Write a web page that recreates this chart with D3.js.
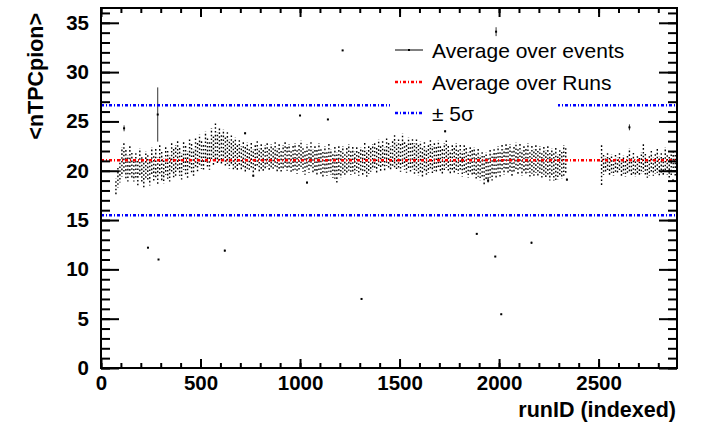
<!DOCTYPE html>
<html>
<head>
<meta charset="utf-8">
<script src="https://cdnjs.cloudflare.com/ajax/libs/d3/7.8.5/d3.min.js"></script>
<style>
  body { margin: 0; background: white; }
  svg { display: block; font-family: "Liberation Sans", Arial, Helvetica, sans-serif; }
  .axis text { font-size: 20.5px; font-weight: bold; fill: black; }
  .axis line { stroke: black; stroke-width: 2; }
  .axis path { display: none; }
</style>
</head>
<body>
<div id="chart"></div>
<script>
var width = 704
var height = 430
var margin = {top: 8, right: 27, bottom: 62, left: 101}

// Gather data
// runs are grouped in columns of 10 (column i covers runs 10*i .. 10*i+9)
var colSize = 10

var colHigh = [
  null, null, null, null, null, null, null,
  19.2, 20.4, 21.2, 22.4, 22.9, 22.1, 21.6, 22.6, 21.8, 21.2,
  21.9, 21.0, 22.3, 21.5, 20.8, 22.0, 21.7, 20.9, 22.4, 21.6,
  22.2, 21.4, 22.7, 21.9, 21.3, 22.5, 22.0, 21.6, 22.9, 22.2,
  22.6, 23.1, 22.3, 21.8, 23.0, 22.5, 22.0, 23.3, 22.7, 22.2,
  23.4, 22.8, 23.7, 23.1, 22.6, 24.0, 23.4, 22.9, 24.3, 23.6,
  24.8, 23.9, 24.4, 23.6, 24.2, 23.5, 23.9, 23.2, 23.7, 23.0,
  23.4, 22.7, 23.1, 22.5, 23.0, 22.4, 22.9, 22.3, 22.8, 22.2,
  22.7, 23.0, 22.3, 22.8, 22.1, 22.6, 22.9, 22.2, 22.7, 22.4,
  22.9, 22.3, 22.8, 22.0, 22.6, 23.0, 22.4, 22.7, 22.1, 22.5,
  22.8, 22.2, 22.6, 23.1, 22.4, 22.0, 22.7, 22.3, 22.9, 22.2,
  22.6, 22.1, 22.8, 22.3, 21.9, 22.5, 22.0, 22.7, 22.2, 21.8,
  22.4, 21.9, 22.6, 22.0, 22.5, 21.8, 22.3, 22.7, 22.1, 22.4,
  22.0, 22.5, 21.9, 22.4, 22.2, 22.8, 22.1, 22.6, 22.3, 22.7,
  22.9, 22.3, 23.2, 22.6, 23.0, 22.4, 23.4, 22.8, 22.5, 23.1,
  23.6, 22.9, 23.3, 22.7, 23.8, 23.0, 22.6, 23.4, 22.9, 23.2,
  22.8, 23.3, 22.6, 23.0, 22.4, 22.9, 22.3, 22.7, 23.1, 22.5,
  22.9, 22.4, 23.1, 22.6, 22.2, 22.8, 23.2, 22.5, 22.1, 22.7,
  22.3, 22.8, 22.2, 22.6, 22.0, 22.7, 22.3, 21.9, 22.5, 22.1,
  22.4, 21.8, 22.2, 21.6, 22.0, 21.5, 21.9, 21.4, 22.1, 21.7,
  22.3, 21.8, 22.5, 22.0, 22.6, 22.2, 22.8, 22.3, 22.7, 22.1,
  22.4, 22.9, 22.3, 22.7, 22.1, 22.6, 22.2, 22.8, 22.0, 22.5,
  22.2, 22.7, 22.0, 22.5, 21.9, 22.4, 22.1, 22.6, 21.8, 22.3,
  21.9, 22.3, 21.7, 22.2, 21.9, 22.6, 22.4,
  null, null, null, null, null, null, null, null, null, null, null, null, null, null, null, null, null,
  22.7, 21.6, 21.5, 21.9, 21.3, 21.7, 21.2, 21.6,
  21.4, 21.9, 21.2, 21.6, 21.1, 21.5, 22.3, 21.4, 21.8, 21.2,
  21.6, 21.3, 21.9, 22.8, 21.7, 21.2, 21.6, 22.0, 21.4, 21.8,
  22.2, 21.5, 21.9, 21.3, 22.4, 21.7, 21.4, 21.9, 22.1, 21.6
]

var colLow = [
  null, null, null, null, null, null, null,
  17.5, 18.3, 18.8, 19.4, 19.8, 19.2, 18.9, 19.6, 19.1, 18.9,
  19.2, 18.4, 19.5, 18.8, 18.3, 19.3, 18.9, 18.5, 19.6, 18.8,
  19.3, 18.6, 19.7, 19.0, 18.7, 19.6, 19.2, 18.9, 19.9, 19.3,
  19.4, 20.0, 19.5, 19.1, 20.1, 19.6, 19.3, 20.3, 19.8, 19.5,
  20.2, 19.8, 20.6, 20.2, 19.9, 20.8, 20.4, 20.1, 21.0, 20.6,
  21.1, 20.6, 21.0, 20.5, 20.9, 20.4, 20.7, 20.2, 20.5, 20.1,
  20.3, 19.9, 20.4, 20.0, 20.3, 19.8, 20.2, 19.9, 20.2, 19.7,
  20.1, 20.3, 19.8, 20.2, 19.9, 20.2, 20.4, 19.9, 20.3, 20.0,
  20.3, 19.9, 20.2, 19.8, 20.1, 20.4, 20.0, 20.2, 19.7, 20.0,
  20.1, 19.7, 20.0, 20.3, 19.9, 19.6, 20.1, 19.8, 20.2, 19.7,
  19.9, 19.5, 20.0, 19.7, 19.4, 19.8, 19.5, 19.9, 19.6, 19.3,
  19.2, 18.8, 19.6, 19.3, 19.8, 19.4, 19.7, 20.0, 19.6, 19.9,
  19.7, 20.0, 19.5, 19.9, 19.6, 19.8, 19.4, 19.7, 19.9, 20.1,
  20.2, 19.8, 20.3, 20.0, 20.4, 19.9, 20.5, 20.1, 20.0, 20.4,
  20.3, 20.0, 20.2, 19.9, 20.4, 20.1, 19.8, 20.2, 19.9, 20.1,
  19.7, 20.0, 19.5, 19.8, 19.4, 19.9, 19.6, 19.8, 20.1, 19.7,
  20.0, 19.7, 20.2, 19.8, 19.6, 20.0, 20.3, 19.9, 19.6, 19.9,
  19.6, 20.0, 19.7, 19.9, 19.4, 19.8, 19.6, 19.3, 19.7, 19.4,
  19.5, 19.1, 19.4, 19.0, 19.2, 18.6, 19.1, 18.9, 19.3, 19.0,
  19.6, 19.2, 19.8, 19.4, 19.9, 19.6, 20.0, 19.7, 19.9, 19.5,
  19.8, 20.1, 19.7, 20.0, 19.5, 19.9, 19.6, 19.8, 19.4, 19.7,
  19.5, 19.8, 19.4, 19.7, 19.2, 19.6, 19.3, 19.5, 19.0, 19.4,
  19.0, 18.9, 19.1, 19.4, 19.2, 19.5, 19.8,
  null, null, null, null, null, null, null, null, null, null, null, null, null, null, null, null, null,
  18.4, 19.6, 19.8, 19.9, 19.6, 19.8, 19.5, 19.7,
  19.6, 19.9, 19.5, 19.7, 19.4, 19.6, 19.8, 19.5, 19.7, 19.4,
  19.6, 19.4, 19.7, 19.9, 19.6, 19.3, 19.5, 19.8, 19.5, 19.7,
  19.8, 19.5, 19.8, 19.4, 19.9, 19.6, 19.3, 19.5, 19.7, 19.4
]

// single runs away from the band (run index, average, error)
var outRun = [116, 236, 285, 289, 622, 724, 765, 1000, 1035, 1140, 1214, 1309, 1729, 1888, 1945, 1981, 1985, 2011, 2163, 2341, 2655, 2874]
var outVal = [24.3, 12.2, 25.7, 11.0, 11.9, 23.8, 19.5, 25.6, 18.8, 25.2, 32.2, 7.0, 24.0, 13.6, 19.0, 11.3, 34.1, 5.45, 12.7, 19.1, 24.4, 19.0]
var outErr = [0.3, 0.05, 2.75, 0.05, 0.1, 0.1, 0.1, 0.05, 0.1, 0.05, 0.05, 0.05, 0.1, 0.05, 0.2, 0.05, 0.45, 0.05, 0.1, 0.1, 0.3, 0.1]

var runMean = 21.06
var fiveSigma = 5.57

var xTicks = [0, 500, 1000, 1500, 2000, 2500]
var yTicks = [0, 5, 10, 15, 20, 25, 30, 35]

var legendLabels = ["Average over events", "Average over Runs", "\u00b1 5\u03c3"]

// Scales

var x_scale = d3.scaleLinear()
    .domain([0, 2894])
    .range([margin.left, width - margin.right])

var y_scale = d3.scaleLinear()
    .domain([0, 36.5])
    .range([height - margin.bottom, margin.top])

var x0 = margin.left, x1 = width - margin.right
var y0 = height - margin.bottom, y1 = margin.top

// Chart background

var svg = d3.select("#chart")
    .append("svg")
    .attr("width", width)
    .attr("height", height)
    .style("background-color", "white")

// Adding data

var cols = colHigh.map(function(h, i) {
    return {run: i * colSize + colSize / 2, hi: h, lo: colLow[i], k: i}
}).filter(function(d) { return d.hi != null })

svg.append("g")
    .selectAll("line")
    .data(cols)
    .enter()
    .append("line")
    .attr("x1", function(d) { return x_scale(d.run) })
    .attr("x2", function(d) { return x_scale(d.run) })
    .attr("y1", function(d) { return y_scale(d.hi) })
    .attr("y2", function(d) { return y_scale(d.lo) })
    .attr("stroke", "black")
    .attr("stroke-width", 1.4)
    .attr("stroke-dasharray", "1.6,2.2")
    .attr("stroke-dashoffset", function(d) { return (d.k % 3) * 1.3 })

var outliers = svg.append("g")
outliers.selectAll("line")
    .data(outRun)
    .enter()
    .append("line")
    .attr("x1", function(d) { return x_scale(d) })
    .attr("x2", function(d) { return x_scale(d) })
    .attr("y1", function(d, i) { return y_scale(outVal[i] + outErr[i]) })
    .attr("y2", function(d, i) { return y_scale(outVal[i] - outErr[i]) })
    .attr("stroke", "#333")
    .attr("stroke-width", 1)
outliers.selectAll("rect")
    .data(outRun)
    .enter()
    .append("rect")
    .attr("x", function(d) { return x_scale(d) - 1 })
    .attr("y", function(d, i) { return y_scale(outVal[i]) - 1 })
    .attr("width", 2)
    .attr("height", 2)
    .attr("fill", "black")

// Mean and +-5 sigma lines

var levels = [
    {v: runMean, c: "#ff0000"},
    {v: runMean + fiveSigma, c: "#0000ff"},
    {v: runMean - fiveSigma, c: "#0000ff"}
]
svg.append("g")
    .selectAll("line")
    .data(levels)
    .enter()
    .append("line")
    .attr("x1", x0)
    .attr("x2", x1)
    .attr("y1", function(d) { return y_scale(d.v) })
    .attr("y2", function(d) { return y_scale(d.v) })
    .attr("stroke", function(d) { return d.c })
    .attr("stroke-width", 2.5)
    .attr("stroke-dasharray", "3,2,1,2")

// Adding axes

function addAxis(axis, tr) {
    svg.append("g")
        .attr("class", "axis")
        .attr("transform", tr)
        .call(axis)
}
var minorX = d3.range(0, 2900, 100)
var minorY = d3.range(0, 37, 1)

addAxis(d3.axisBottom(x_scale).tickValues(minorX).tickSize(-5).tickFormat(""), "translate(0," + y0 + ")")
addAxis(d3.axisBottom(x_scale).tickValues(xTicks).tickSize(-9).tickPadding(7.5).tickFormat(d3.format("d")), "translate(0," + y0 + ")")
addAxis(d3.axisTop(x_scale).tickValues(minorX).tickSize(-5).tickFormat(""), "translate(0," + y1 + ")")
addAxis(d3.axisTop(x_scale).tickValues(xTicks).tickSize(-9).tickFormat(""), "translate(0," + y1 + ")")
addAxis(d3.axisLeft(y_scale).tickValues(minorY).tickSize(-9).tickFormat(""), "translate(" + x0 + ",0)")
addAxis(d3.axisLeft(y_scale).tickValues(yTicks).tickSize(-18).tickPadding(12).tickFormat(d3.format("d")), "translate(" + x0 + ",0)")
addAxis(d3.axisRight(y_scale).tickValues(minorY).tickSize(-9).tickFormat(""), "translate(" + x1 + ",0)")
addAxis(d3.axisRight(y_scale).tickValues(yTicks).tickSize(-18).tickFormat(""), "translate(" + x1 + ",0)")

svg.append("rect")
    .attr("x", x0)
    .attr("y", y1)
    .attr("width", x1 - x0)
    .attr("height", y0 - y1)
    .attr("fill", "none")
    .attr("stroke", "black")
    .attr("stroke-width", 2)

// Axis titles

svg.append("text")
    .attr("x", 676)
    .attr("y", 417)
    .attr("text-anchor", "end")
    .style("font-size", "21.5px")
    .style("font-weight", "bold")
    .text("runID (indexed)")

svg.append("text")
    .attr("transform", "translate(43,13) rotate(-90)")
    .attr("text-anchor", "end")
    .style("font-size", "21.5px")
    .style("font-weight", "bold")
    .text("<nTPCpion>")

// Legend

var legend = svg.append("g")
legend.append("rect")
    .attr("x", 390)
    .attr("y", 38)
    .attr("width", 168)
    .attr("height", 90)
    .attr("fill", "white")

var legY = [50, 82, 113]
var legStyle = [
    {c: "black", w: 1, dash: null},
    {c: "#ff0000", w: 2.5, dash: "3,2,1,2"},
    {c: "#0000ff", w: 2.5, dash: "3,2,1,2"}
]
legendLabels.forEach(function(lbl, i) {
    legend.append("line")
        .attr("x1", 395)
        .attr("x2", 423)
        .attr("y1", legY[i])
        .attr("y2", legY[i])
        .attr("stroke", legStyle[i].c)
        .attr("stroke-width", legStyle[i].w)
        .attr("stroke-dasharray", legStyle[i].dash)
    legend.append("text")
        .attr("x", 432)
        .attr("y", legY[i] + 7.5)
        .style("font-size", "21px")
        .text(lbl)
})
legend.append("rect")
    .attr("x", 408)
    .attr("y", legY[0] - 1)
    .attr("width", 2)
    .attr("height", 2)
    .attr("fill", "black")
</script>
</body>
</html>
